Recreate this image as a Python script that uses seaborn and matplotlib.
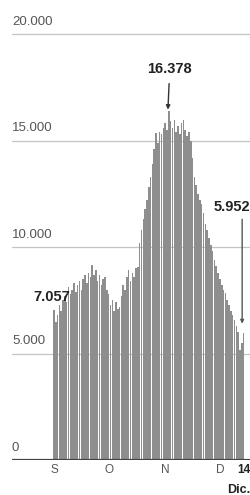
import matplotlib
matplotlib.use('Agg')
import matplotlib.pyplot as plt
import pandas as pd
import seaborn as sns

# casos diarios, del 1 de septiembre al 14 de diciembre
dias = list(range(105))
casos = [7057, 6500, 6800, 7300, 7000, 7500, 7700, 7400, 8100, 7800,
         8000, 8300, 7900, 8200, 8400, 8000, 8500, 8700, 8300, 8800,
         8600, 9150, 8700, 8900, 8400, 8700, 8200, 8500, 8600, 8000,
         7800, 7300, 7500, 7000, 7400, 7100, 7200, 7700, 8200, 8000,
         8600, 8900, 8400, 8800, 8600, 9000, 9060, 10200, 10800, 11300,
         11800, 12200, 12800, 13300, 13900, 14600, 15350, 14900, 15400, 15300,
         15600, 15800, 15500, 16378, 15900, 15600, 15960, 15400, 15700, 15300,
         15800, 15950, 15500, 15200, 15400, 15000, 14200, 13300, 12900, 12500,
         12200, 12000, 11600, 11100, 10800, 10400, 10100, 9800, 9400, 9100,
         8800, 8500, 8200, 8000, 7840, 7500, 7300, 7000, 6800, 6570,
         6300, 6000, 5160, 5500, 5952]

meses = ['S', 'O', 'N', 'D', '14']
pos_meses = [0, 30, 61, 91, 104]
marcas_y = [0, 5000, 10000, 15000, 20000]
etiquetas_y = ['0', '5.000', '10.000', '15.000', '20.000']

df = pd.DataFrame({'dia': dias, 'casos': casos})

sns.set_style('white')
plt.rcParams['font.family'] = ['Liberation Sans', 'DejaVu Sans']

fig = plt.figure(figsize=(2.5, 4.95), dpi=100)
alto = 426 * 20500 / 20000
ax = fig.add_axes([12 / 250, 35 / 495, 238 / 250, alto / 495])

sns.barplot(data=df, x='dia', y='casos', native_scale=True, color='#8e8e8e',
            saturation=1, width=0.85, linewidth=0, ax=ax)

ax.set_xlim(-23, 107.5)
ax.set_ylim(0, 20500)

for m, t in zip(marcas_y, etiquetas_y):
    if m > 0:
        ax.axhline(m, color='#c4c4c4', lw=0.9, zorder=0)
    ax.text(0, m + 300, t, transform=ax.get_yaxis_transform(), ha='left',
            va='bottom', fontsize=9.5, color='#555555')
ax.axhline(0, color='#444444', lw=1.6, zorder=3)

ax.set_yticks([])
ax.set_xticks(pos_meses, meses)
ax.tick_params(axis='x', length=0, pad=3, labelsize=8.5, labelcolor='#555555')
ax.get_xticklabels()[-1].set_fontweight('bold')
ax.get_xticklabels()[-1].set_color('#222222')
ax.set_xlabel('')
ax.set_ylabel('')
for s in ax.spines.values():
    s.set_visible(False)

ax.text(1.0, -0.055, 'Dic.', transform=ax.transAxes, ha='right', va='top',
        fontsize=9, fontweight='bold', color='#222222')

# anotaciones
ax.annotate('16.378', xy=(62.5, 16450), xytext=(63.5, 18350), ha='center',
            va='center', fontsize=10.5, fontweight='bold', color='#222222',
            arrowprops=dict(arrowstyle='-|>', color='#333333', lw=1,
                            mutation_scale=6, shrinkA=3, shrinkB=0))
ax.text(-1.2, 7650, '7.057', ha='center', va='center', fontsize=10.5,
        fontweight='bold', color='#222222')
ax.text(1.0, 11880, '5.952', transform=ax.get_yaxis_transform(), ha='right',
        va='center', fontsize=10.5, fontweight='bold', color='#222222')
ax.annotate('', xy=(103.2, 6400), xytext=(103.2, 11300),
            arrowprops=dict(arrowstyle='-|>', color='#555555', lw=1,
                            mutation_scale=5, shrinkA=0, shrinkB=0))

fig.savefig('out.png', dpi=100)
